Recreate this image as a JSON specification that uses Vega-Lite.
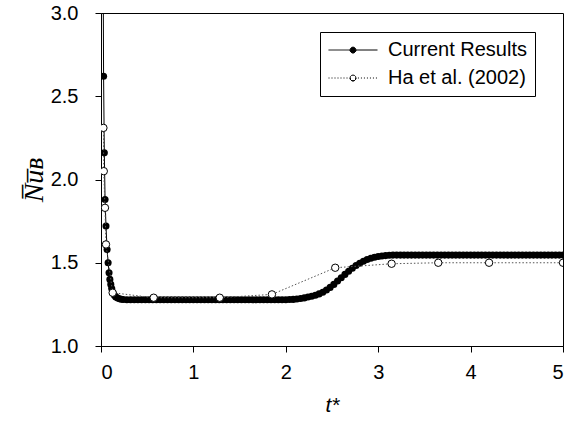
{
  "$schema": "https://vega.github.io/schema/vega-lite/v6.json",
  "width": 462,
  "height": 333,
  "autosize": {"type": "none"},
  "padding": {"left": 101, "top": 13, "right": 6, "bottom": 75},
  "background": "white",
  "config": {
    "view": {"stroke": "black", "strokeWidth": 1},
    "axis": {
      "grid": false,
      "domainColor": "black",
      "tickColor": "black",
      "tickSize": 6,
      "labelColor": "black",
      "labelFont": "Liberation Sans",
      "labelFontSize": 20,
      "titleColor": "black",
      "titleFontWeight": "normal"
    },
    "legend": {
      "title": null,
      "orient": "none",
      "legendX": 219,
      "legendY": 19,
      "padding": 8,
      "strokeColor": "black",
      "fillColor": "white",
      "labelFont": "Liberation Sans",
      "labelFontSize": 20,
      "labelColor": "black",
      "labelOffset": 10,
      "symbolSize": 2401,
      "symbolStrokeColor": "black",
      "symbolStrokeWidth": 1,
      "clipHeight": 20,
      "rowPadding": 8
    }
  },
  "datasets": {
    "current": [
      {"t": 0.018, "y": 4.0},
      {"t": 0.028, "y": 2.62},
      {"t": 0.036, "y": 2.16},
      {"t": 0.044, "y": 1.88},
      {"t": 0.054, "y": 1.72},
      {"t": 0.066, "y": 1.58},
      {"t": 0.077, "y": 1.5},
      {"t": 0.087, "y": 1.44},
      {"t": 0.096, "y": 1.4},
      {"t": 0.106, "y": 1.37},
      {"t": 0.116, "y": 1.345},
      {"t": 0.13, "y": 1.32},
      {"t": 0.145, "y": 1.305},
      {"t": 0.16, "y": 1.295},
      {"t": 0.18, "y": 1.288},
      {"t": 0.2, "y": 1.284},
      {"t": 0.22, "y": 1.281},
      {"t": 0.24, "y": 1.279},
      {"t": 0.28, "y": 1.278},
      {"t": 0.32, "y": 1.278},
      {"t": 0.36, "y": 1.278},
      {"t": 0.4, "y": 1.278},
      {"t": 0.44, "y": 1.278},
      {"t": 0.48, "y": 1.278},
      {"t": 0.52, "y": 1.278},
      {"t": 0.56, "y": 1.278},
      {"t": 0.6, "y": 1.278},
      {"t": 0.64, "y": 1.278},
      {"t": 0.68, "y": 1.278},
      {"t": 0.72, "y": 1.278},
      {"t": 0.76, "y": 1.278},
      {"t": 0.8, "y": 1.278},
      {"t": 0.84, "y": 1.278},
      {"t": 0.88, "y": 1.278},
      {"t": 0.92, "y": 1.278},
      {"t": 0.96, "y": 1.278},
      {"t": 1.0, "y": 1.278},
      {"t": 1.04, "y": 1.278},
      {"t": 1.08, "y": 1.278},
      {"t": 1.12, "y": 1.278},
      {"t": 1.16, "y": 1.278},
      {"t": 1.2, "y": 1.278},
      {"t": 1.24, "y": 1.278},
      {"t": 1.28, "y": 1.278},
      {"t": 1.32, "y": 1.278},
      {"t": 1.36, "y": 1.278},
      {"t": 1.4, "y": 1.278},
      {"t": 1.44, "y": 1.278},
      {"t": 1.48, "y": 1.278},
      {"t": 1.52, "y": 1.278},
      {"t": 1.56, "y": 1.278},
      {"t": 1.6, "y": 1.278},
      {"t": 1.64, "y": 1.278},
      {"t": 1.68, "y": 1.278},
      {"t": 1.72, "y": 1.278},
      {"t": 1.76, "y": 1.278},
      {"t": 1.8, "y": 1.278},
      {"t": 1.84, "y": 1.278},
      {"t": 1.88, "y": 1.278},
      {"t": 1.92, "y": 1.278},
      {"t": 1.96, "y": 1.278},
      {"t": 2.0, "y": 1.278},
      {"t": 2.04, "y": 1.279},
      {"t": 2.08, "y": 1.28},
      {"t": 2.12, "y": 1.282},
      {"t": 2.16, "y": 1.285},
      {"t": 2.2, "y": 1.289},
      {"t": 2.24, "y": 1.294},
      {"t": 2.28, "y": 1.299},
      {"t": 2.32, "y": 1.305},
      {"t": 2.36, "y": 1.313},
      {"t": 2.4, "y": 1.323},
      {"t": 2.44, "y": 1.336},
      {"t": 2.48, "y": 1.352},
      {"t": 2.52, "y": 1.37},
      {"t": 2.56, "y": 1.39},
      {"t": 2.6, "y": 1.41},
      {"t": 2.64, "y": 1.43},
      {"t": 2.68, "y": 1.449},
      {"t": 2.72, "y": 1.467},
      {"t": 2.76, "y": 1.483},
      {"t": 2.8, "y": 1.497},
      {"t": 2.84, "y": 1.509},
      {"t": 2.88, "y": 1.519},
      {"t": 2.92, "y": 1.527},
      {"t": 2.96, "y": 1.533},
      {"t": 3.0, "y": 1.538},
      {"t": 3.04, "y": 1.541},
      {"t": 3.08, "y": 1.543},
      {"t": 3.12, "y": 1.545},
      {"t": 3.16, "y": 1.546},
      {"t": 3.2, "y": 1.546},
      {"t": 3.24, "y": 1.546},
      {"t": 3.28, "y": 1.546},
      {"t": 3.32, "y": 1.546},
      {"t": 3.36, "y": 1.546},
      {"t": 3.4, "y": 1.546},
      {"t": 3.44, "y": 1.546},
      {"t": 3.48, "y": 1.546},
      {"t": 3.52, "y": 1.546},
      {"t": 3.56, "y": 1.546},
      {"t": 3.6, "y": 1.546},
      {"t": 3.64, "y": 1.546},
      {"t": 3.68, "y": 1.546},
      {"t": 3.72, "y": 1.546},
      {"t": 3.76, "y": 1.546},
      {"t": 3.8, "y": 1.546},
      {"t": 3.84, "y": 1.546},
      {"t": 3.88, "y": 1.546},
      {"t": 3.92, "y": 1.546},
      {"t": 3.96, "y": 1.546},
      {"t": 4.0, "y": 1.546},
      {"t": 4.04, "y": 1.546},
      {"t": 4.08, "y": 1.546},
      {"t": 4.12, "y": 1.546},
      {"t": 4.16, "y": 1.546},
      {"t": 4.2, "y": 1.546},
      {"t": 4.24, "y": 1.546},
      {"t": 4.28, "y": 1.546},
      {"t": 4.32, "y": 1.546},
      {"t": 4.36, "y": 1.546},
      {"t": 4.4, "y": 1.546},
      {"t": 4.44, "y": 1.546},
      {"t": 4.48, "y": 1.546},
      {"t": 4.52, "y": 1.546},
      {"t": 4.56, "y": 1.546},
      {"t": 4.6, "y": 1.546},
      {"t": 4.64, "y": 1.546},
      {"t": 4.68, "y": 1.546},
      {"t": 4.72, "y": 1.546},
      {"t": 4.76, "y": 1.546},
      {"t": 4.8, "y": 1.546},
      {"t": 4.84, "y": 1.546},
      {"t": 4.88, "y": 1.546},
      {"t": 4.92, "y": 1.546},
      {"t": 4.96, "y": 1.546},
      {"t": 5.0, "y": 1.546}
    ],
    "ha": [
      {"t": 0.026, "y": 2.31},
      {"t": 0.03, "y": 2.05},
      {"t": 0.043, "y": 1.83},
      {"t": 0.054, "y": 1.61},
      {"t": 0.126, "y": 1.32},
      {"t": 0.57, "y": 1.29},
      {"t": 1.285, "y": 1.29},
      {"t": 1.85, "y": 1.31},
      {"t": 2.535, "y": 1.47},
      {"t": 3.145, "y": 1.494},
      {"t": 3.65, "y": 1.5},
      {"t": 4.2, "y": 1.5},
      {"t": 5.0, "y": 1.5}
    ]
  },
  "encoding": {
    "x": {
      "field": "t", "type": "quantitative",
      "scale": {"domain": [0, 5], "nice": false},
      "axis": {"values": [0, 1, 2, 3, 4, 5], "title": "t*", "titleFont": "Liberation Sans", "titleFontStyle": "italic", "titleFontSize": 21, "labelPadding": 10, "titlePadding": 12}
    },
    "y": {
      "field": "y", "type": "quantitative",
      "scale": {"domain": [1, 3], "nice": false},
      "axis": {"values": [1, 1.5, 2, 2.5, 3], "format": ".1f", "title": "N̅u̅ʙ", "titleFont": "Liberation Serif, DejaVu Serif", "titleFontStyle": "italic", "titleFontSize": 28, "labelPadding": 17, "titlePadding": 2}
    }
  },
  "layer": [
    {
      "data": {"name": "current"},
      "mark": {"type": "line", "color": "black", "strokeWidth": 1, "clip": true}
    },
    {
      "data": {"name": "current"},
      "mark": {"type": "point", "filled": true, "size": 50, "opacity": 1, "clip": true},
      "encoding": {
        "fill": {
          "datum": "Current Results",
          "scale": {"domain": ["Current Results", "Ha et al. (2002)"], "range": ["black", "white"]},
          "legend": {
            "symbolType": "M-1,0L-0.12,0L-0.104,0.06L-0.06,0.104L0,0.12L0.06,0.104L0.104,0.06L0.12,0L0.104,-0.06L0.06,-0.104L0,-0.12L-0.06,-0.104L-0.104,-0.06L-0.12,0L-0.104,0.06L-0.06,0.104L0,0.12L0.06,0.104L0.104,0.06L0.12,0L1,0"
          }
        }
      }
    },
    {
      "data": {"name": "ha"},
      "transform": [{"filter": "false"}],
      "mark": {"type": "line", "strokeWidth": 1},
      "encoding": {
        "strokeDash": {
          "datum": "Current Results",
          "scale": {"domain": ["Current Results", "Ha et al. (2002)"], "range": [[1, 0], [1, 2, 1, 2, 1, 2, 1, 2, 1, 2, 1, 2, 1, 2.56, 27.39, 2, 1, 2, 1, 2, 1, 2, 1, 2, 1, 2, 1, 2, 1, 100]]},
          "legend": {
            "symbolType": "M-1,0L-0.12,0L-0.104,0.06L-0.06,0.104L0,0.12L0.06,0.104L0.104,0.06L0.12,0L0.104,-0.06L0.06,-0.104L0,-0.12L-0.06,-0.104L-0.104,-0.06L-0.12,0L-0.104,0.06L-0.06,0.104L0,0.12L0.06,0.104L0.104,0.06L0.12,0L1,0"
          }
        }
      }
    },
    {
      "data": {"name": "ha"},
      "mark": {"type": "line", "color": "#555555", "strokeWidth": 1, "strokeDash": [1.5, 2], "clip": true}
    },
    {
      "data": {"name": "ha"},
      "mark": {"type": "point", "filled": true, "size": 55, "stroke": "black", "strokeWidth": 1, "opacity": 1, "clip": true},
      "encoding": {
        "fill": {"datum": "Ha et al. (2002)"}
      }
    }
  ]
}
